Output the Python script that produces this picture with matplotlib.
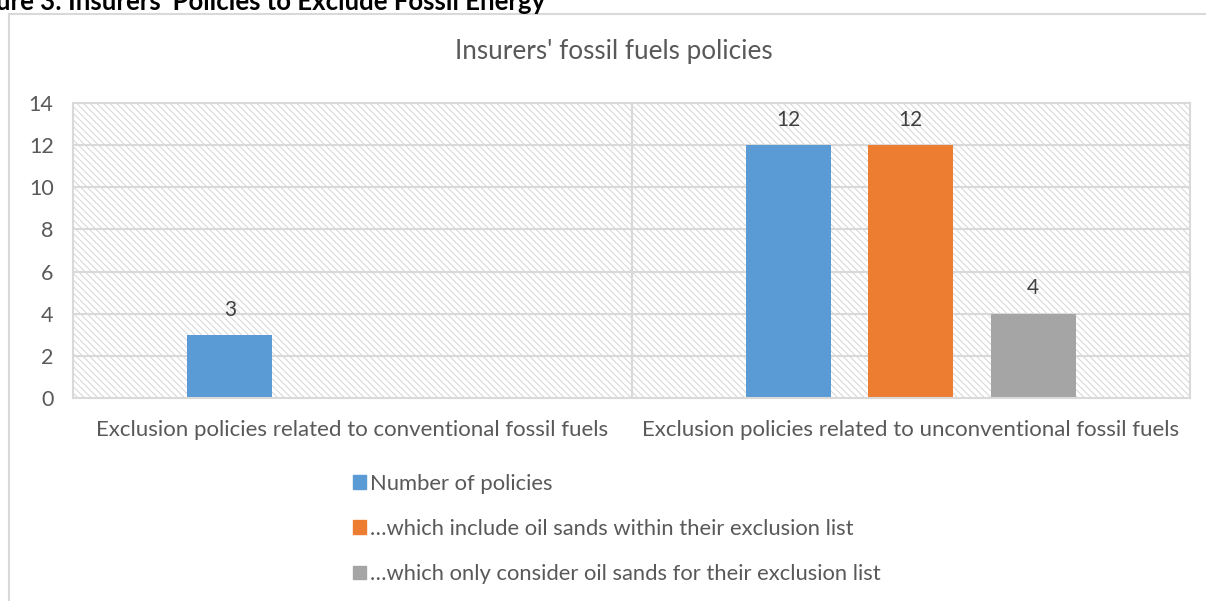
import matplotlib.pyplot as plt
import matplotlib.patches as mpatches
import numpy as np

plt.rcParams['font.family'] = ['Lato', 'DejaVu Sans']
plt.rcParams['hatch.color'] = '#d9d9d9'
plt.rcParams['hatch.linewidth'] = 0.8

categories = ['Exclusion policies related to conventional fossil fuels',
              'Exclusion policies related to unconventional fossil fuels']
series_names = ['Number of policies',
                '\u2026which include oil sands within their exclusion list',
                '\u2026which only consider oil sands for their exclusion list']
number_of_policies = [3, 12]
include_oil_sands = [0, 12]
only_oil_sands = [0, 4]
colors = ['#5B9BD5', '#ED7D31', '#A5A5A5']
text_color = '#595959'
grid_color = '#d9d9d9'

series = [number_of_policies, include_oil_sands, only_oil_sands]

fig = plt.figure(figsize=(12.06, 6.01), dpi=100)

# outer chart frame (runs off the right and bottom edge)
fig.patches.append(mpatches.Rectangle((9 / 1206, -0.1), 1.2, 1 - 13.5 / 601 + 0.1,
                                      transform=fig.transFigure, fill=False,
                                      edgecolor=grid_color, linewidth=1.5))
# caption above the chart, cut off by the top edge as in the source
fig.text(545 / 1206, 1 - 10 / 601, "Figure 3: Insurers' Policies to Exclude Fossil Energy",
         ha='right', va='baseline', fontsize=18.5, fontweight='bold', color='black')

ax = fig.add_axes([73 / 1206, 1 - 398 / 601, (1190 - 73) / 1206, (398 - 103) / 601])
ax.set_xlim(-0.5, 1.5)
ax.set_ylim(0, 14)

# hatched plot area
ax.add_patch(mpatches.Rectangle((-0.5, 0), 2, 14, facecolor='white',
                                edgecolor=grid_color, hatch='\\\\\\\\\\',
                                linewidth=0, zorder=0))

for y in range(2, 15, 2):
    ax.axhline(y, color=grid_color, linewidth=1.5, zorder=1)
ax.axvline(0.5, color=grid_color, linewidth=1.5, zorder=1)

x = np.arange(len(categories))
pitch = 0.219
width = 0.152
for i, vals in enumerate(series):
    pos = x + (i - 1) * pitch
    bars = ax.bar(pos, vals, width, color=colors[i], label=series_names[i], zorder=2)
    for rect, v in zip(bars, vals):
        if v > 0:
            ax.annotate('{}'.format(v),
                        xy=(rect.get_x() + rect.get_width() / 2, v),
                        xytext=(0, 11), textcoords='offset points',
                        ha='center', va='bottom', fontsize=15, color='#404040')

for s in ax.spines.values():
    s.set_color(grid_color)
    s.set_linewidth(1.5)

ax.set_yticks(range(0, 15, 2))
ax.set_xticks(x)
ax.set_xticklabels(categories)
ax.tick_params(axis='both', length=0, labelsize=15.5, colors=text_color)
ax.tick_params(axis='x', labelsize=16, pad=16)
ax.tick_params(axis='y', pad=14)

fig.text(614 / 1206, 1 - 52 / 601, "Insurers' fossil fuels policies",
         ha='center', va='center', fontsize=18.8, color=text_color)

handles = [mpatches.Patch(color=c) for c in colors]
leg = fig.legend(handles, series_names, loc='upper left',
                 bbox_to_anchor=(344 / 1206, 1 - 465 / 601), frameon=False,
                 fontsize=15.8, handlelength=0.6, handleheight=0.6,
                 handletextpad=0.2, labelspacing=1.15, borderaxespad=0)
for t in leg.get_texts():
    t.set_color(text_color)

plt.savefig('out.png', dpi=100)
